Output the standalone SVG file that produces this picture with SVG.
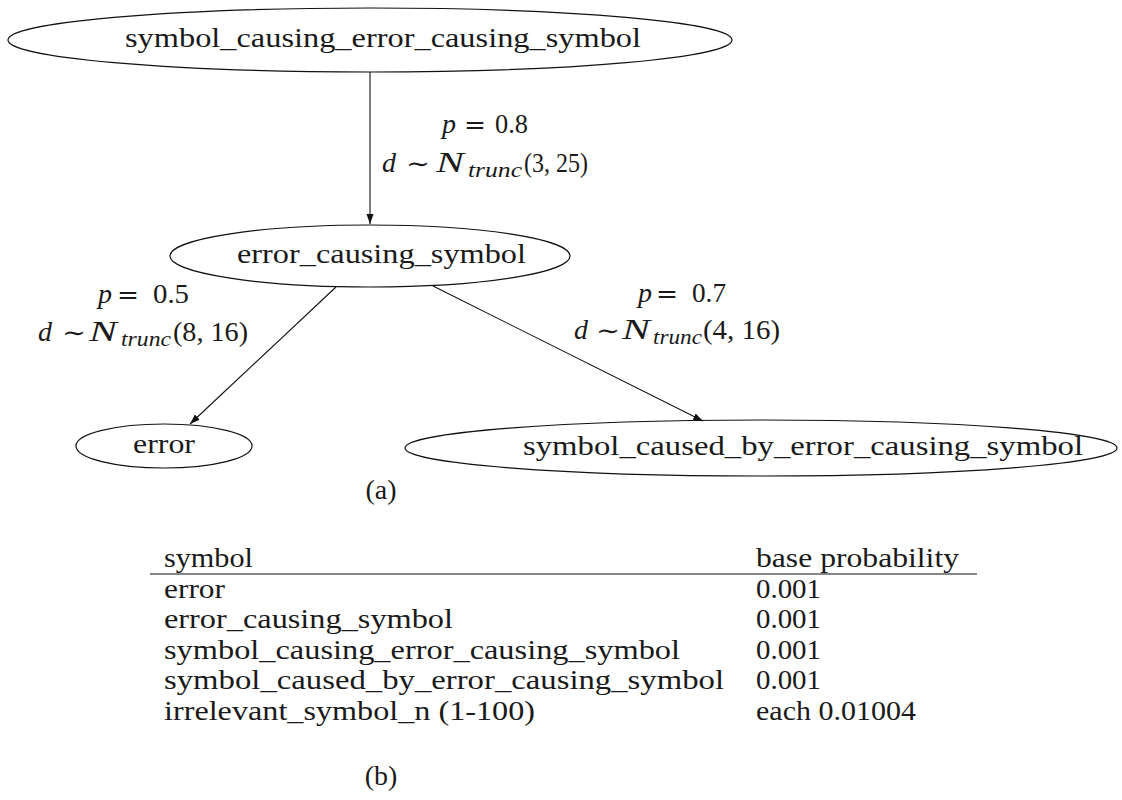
<svg xmlns="http://www.w3.org/2000/svg" width="1122" height="800" viewBox="0 0 1122 800">
  <style>
    text { font-family: "Liberation Serif", "DejaVu Serif", serif; fill: #1a1a1a; }
    .node-shape { fill: none; stroke: #111; stroke-width: 1.2; }
    .lbl { font-size: 28px; }
    .math { font-size: 28px; }
    .it { font-style: italic; }
    .sym { font-family: "DejaVu Serif", serif; font-size: 24px; }
    .cal { font-size: 29px; font-style: italic; }
    .sub { font-size: 20px; font-style: italic; }
    .edge { stroke: #111; stroke-width: 1.1; fill: none; marker-end: url(#arrow); }
  </style>
  <defs>
    <marker id="arrow" markerWidth="11" markerHeight="8" refX="10" refY="4" orient="auto" markerUnits="userSpaceOnUse">
      <path d="M0,0.5 L10,4 L0,7.5 z" fill="#111"/>
    </marker>
  </defs>

  <rect width="1122" height="800" fill="#fff"/>

  <!-- nodes -->
  <g id="node-symbol-causing">
    <ellipse class="node-shape" cx="370" cy="40" rx="362" ry="32"/>
    <text class="lbl" x="125" y="47" textLength="516" lengthAdjust="spacingAndGlyphs">symbol_causing_error_causing_symbol</text>
  </g>
  <g id="node-error-causing">
    <ellipse class="node-shape" cx="370" cy="256" rx="200" ry="31"/>
    <text class="lbl" x="237" y="263" textLength="289" lengthAdjust="spacingAndGlyphs">error_causing_symbol</text>
  </g>
  <g id="node-error">
    <ellipse class="node-shape" cx="164" cy="446" rx="88" ry="22"/>
    <text class="lbl" x="133" y="453" textLength="62" lengthAdjust="spacingAndGlyphs">error</text>
  </g>
  <g id="node-symbol-caused">
    <ellipse class="node-shape" cx="761" cy="448" rx="356" ry="28"/>
    <text class="lbl" x="523" y="455" textLength="560" lengthAdjust="spacingAndGlyphs">symbol_caused_by_error_causing_symbol</text>
  </g>

  <!-- connectors -->
  <g id="edges">
    <line class="edge" x1="370" y1="72" x2="370" y2="224"/>
    <line class="edge" x1="336" y1="287" x2="190" y2="424"/>
    <line class="edge" x1="433" y1="286" x2="703" y2="421"/>
  </g>

  <!-- edge labels -->
  <g id="edge-labels">
    <text class="math it" x="442" y="133">p</text>
    <text class="sym" x="464" y="133" textLength="22" lengthAdjust="spacingAndGlyphs">=</text>
    <text class="math" x="495" y="133" textLength="33" lengthAdjust="spacingAndGlyphs">0.8</text>
    <text class="math it" x="382" y="172">d</text>
    <text class="sym" x="406" y="172" textLength="24" lengthAdjust="spacingAndGlyphs">∼</text>
    <text class="cal" x="436" y="172" textLength="28" lengthAdjust="spacingAndGlyphs">N</text>
    <text class="sub" x="468" y="177" textLength="54" lengthAdjust="spacingAndGlyphs">trunc</text>
    <text class="math" x="524" y="172" textLength="64" lengthAdjust="spacingAndGlyphs">(3, 25)</text>

    <text class="math it" x="98" y="303">p</text>
    <text class="sym" x="117" y="303" textLength="22" lengthAdjust="spacingAndGlyphs">=</text>
    <text class="math" x="153" y="303" textLength="36" lengthAdjust="spacingAndGlyphs">0.5</text>
    <text class="math it" x="38" y="341">d</text>
    <text class="sym" x="62" y="341" textLength="24" lengthAdjust="spacingAndGlyphs">∼</text>
    <text class="cal" x="89" y="341" textLength="28" lengthAdjust="spacingAndGlyphs">N</text>
    <text class="sub" x="121" y="346" textLength="50" lengthAdjust="spacingAndGlyphs">trunc</text>
    <text class="math" x="173" y="341" textLength="75" lengthAdjust="spacingAndGlyphs">(8, 16)</text>

    <text class="math it" x="638" y="302">p</text>
    <text class="sym" x="656" y="302" textLength="22" lengthAdjust="spacingAndGlyphs">=</text>
    <text class="math" x="692" y="302" textLength="34" lengthAdjust="spacingAndGlyphs">0.7</text>
    <text class="math it" x="574" y="339">d</text>
    <text class="sym" x="596" y="339" textLength="24" lengthAdjust="spacingAndGlyphs">∼</text>
    <text class="cal" x="622" y="339" textLength="28" lengthAdjust="spacingAndGlyphs">N</text>
    <text class="sub" x="653" y="344" textLength="49" lengthAdjust="spacingAndGlyphs">trunc</text>
    <text class="math" x="703" y="339" textLength="77" lengthAdjust="spacingAndGlyphs">(4, 16)</text>
  </g>

  <text class="lbl" x="381" y="499" text-anchor="middle">(a)</text>

  <!-- table -->
  <g id="table">
    <text class="lbl" x="164" y="567" textLength="89" lengthAdjust="spacingAndGlyphs">symbol</text>
    <text class="lbl" x="756" y="567" textLength="203" lengthAdjust="spacingAndGlyphs">base probability</text>
    <line x1="150" y1="574" x2="977" y2="574" stroke="#111" stroke-width="1.2"/>

    <text class="lbl" x="164" y="598" textLength="61" lengthAdjust="spacingAndGlyphs">error</text>
    <text class="lbl" x="756" y="598" textLength="65" lengthAdjust="spacingAndGlyphs">0.001</text>
    <text class="lbl" x="164" y="628" textLength="289" lengthAdjust="spacingAndGlyphs">error_causing_symbol</text>
    <text class="lbl" x="756" y="628" textLength="65" lengthAdjust="spacingAndGlyphs">0.001</text>
    <text class="lbl" x="164" y="659" textLength="516" lengthAdjust="spacingAndGlyphs">symbol_causing_error_causing_symbol</text>
    <text class="lbl" x="756" y="659" textLength="65" lengthAdjust="spacingAndGlyphs">0.001</text>
    <text class="lbl" x="164" y="689" textLength="560" lengthAdjust="spacingAndGlyphs">symbol_caused_by_error_causing_symbol</text>
    <text class="lbl" x="756" y="689" textLength="65" lengthAdjust="spacingAndGlyphs">0.001</text>
    <text class="lbl" x="164" y="720" textLength="371" lengthAdjust="spacingAndGlyphs">irrelevant_symbol_n (1-100)</text>
    <text class="lbl" x="756" y="720" textLength="160" lengthAdjust="spacingAndGlyphs">each 0.01004</text>
  </g>

  <text class="lbl" x="381" y="785" text-anchor="middle">(b)</text>
</svg>
